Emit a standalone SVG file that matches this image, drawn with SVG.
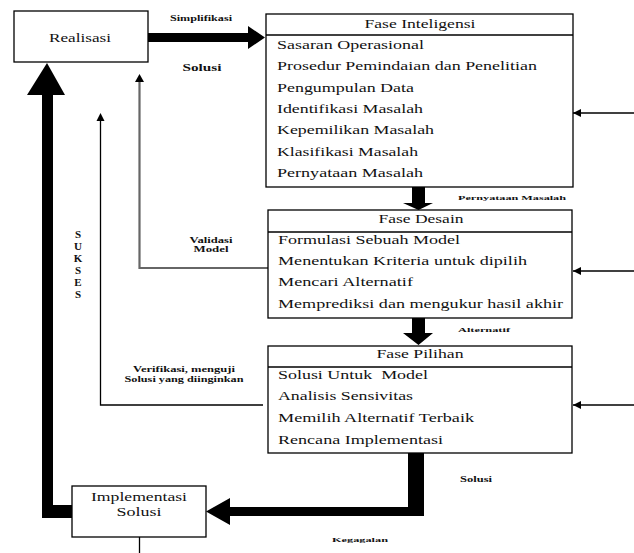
<svg xmlns="http://www.w3.org/2000/svg" width="634" height="553" viewBox="0 0 634 553" font-family="Liberation Serif, DejaVu Serif, serif">
<defs>
<style>
.box{fill:#fff;stroke:#000;stroke-width:1.3}
.sep{stroke:#000;stroke-width:1.3}
text{font-family:"Liberation Serif","DejaVu Serif",serif}
.t{font-size:13px;fill:#111}
.ti{font-size:13px;fill:#111;text-anchor:middle}
.lb{font-weight:bold;fill:#111;text-anchor:middle}
.thin{fill:none;stroke:#000;stroke-width:1.3}
.gray{fill:none;stroke:#666;stroke-width:2.2}
.thick{fill:#000}
</style>
<marker id="ah" viewBox="0 0 10 10" refX="10" refY="5" markerWidth="8" markerHeight="8" markerUnits="userSpaceOnUse" orient="auto">
<path d="M0,0 L10,5 L0,10 Z" fill="#000"/>
</marker>
</defs>

<g id="connectors">
<path class="thick" d="M148,33 H248 V26 L265,37.5 L248,49 V42 H148 Z"/>
<path class="thick" d="M412,187 H425 V203 H433 L418.5,210 L403,203 H412 Z"/>
<path class="thick" d="M412,318 H425 V333 H433 L418.5,345 L403,333 H412 Z"/>
<path class="thick" d="M408,453 H424 V516 H230 V525 L206,511.5 L230,498 V507 H408 Z"/>
<path class="thick" d="M72,505 V518 H42 V95 H27 L47,63 L65,95 H53 V505 Z"/>
<path class="gray" d="M268,268 H139.5 V82"/>
<path d="M135,82 L139.5,74 L144,82 Z" fill="#000"/>
<path class="thin" d="M263,405 H100.5 V120"/>
<path d="M96.5,121 L100.5,113 L104.5,121 Z" fill="#000"/>
<line class="thin" x1="634" y1="113" x2="573" y2="113" marker-end="url(#ah)"/>
<line class="thin" x1="634" y1="271" x2="573" y2="271" marker-end="url(#ah)"/>
<line class="thin" x1="634" y1="405" x2="573" y2="405" marker-end="url(#ah)"/>
<line class="thin" x1="139.5" y1="537" x2="139.5" y2="553"/>
</g>

<g id="labels">
<text class="lb" x="201" y="21" font-size="8" textLength="62" lengthAdjust="spacingAndGlyphs" fill="#1a1a40">Simplifikasi</text>
<text class="lb" x="202" y="71" font-size="11" textLength="39" lengthAdjust="spacingAndGlyphs">Solusi</text>
<text class="lb" x="512" y="200" font-size="7" textLength="108" lengthAdjust="spacingAndGlyphs">Pernyataan Masalah</text>
<text class="lb" x="211" y="243" font-size="8" textLength="43" lengthAdjust="spacingAndGlyphs">Validasi</text>
<text class="lb" x="211" y="252" font-size="8" textLength="35" lengthAdjust="spacingAndGlyphs">Model</text>
<text class="lb" x="484" y="332" font-size="7" textLength="52" lengthAdjust="spacingAndGlyphs">Alternatif</text>
<text class="lb" x="184" y="372" font-size="8" textLength="102" lengthAdjust="spacingAndGlyphs">Verifikasi, menguji</text>
<text class="lb" x="184" y="382" font-size="8" textLength="119" lengthAdjust="spacingAndGlyphs">Solusi yang diinginkan</text>
<text class="lb" x="476" y="482" font-size="8" textLength="32" lengthAdjust="spacingAndGlyphs">Solusi</text>
<text class="lb" x="360" y="542" font-size="7" textLength="56" lengthAdjust="spacingAndGlyphs">Kegagalan</text>
<text class="lb" x="78" y="238" font-size="11">S</text>
<text class="lb" x="78" y="250" font-size="11">U</text>
<text class="lb" x="78" y="262" font-size="11">K</text>
<text class="lb" x="78" y="274" font-size="11">S</text>
<text class="lb" x="78" y="286" font-size="11">E</text>
<text class="lb" x="78" y="298" font-size="11">S</text>
</g>

<g id="realisasi">
<rect class="box" x="14" y="11" width="134" height="51"/>
<text class="ti" x="80" y="42" textLength="62" lengthAdjust="spacingAndGlyphs">Realisasi</text>
</g>

<g id="fase-inteligensi">
<rect class="box" x="266" y="14" width="307" height="173"/>
<line class="sep" x1="266" y1="35" x2="573" y2="35"/>
<text class="ti" x="420" y="28" textLength="111" lengthAdjust="spacingAndGlyphs">Fase Inteligensi</text>
<text class="t" x="277" y="49" textLength="147" lengthAdjust="spacingAndGlyphs">Sasaran Operasional</text>
<text class="t" x="277" y="70" textLength="260" lengthAdjust="spacingAndGlyphs">Prosedur Pemindaian dan Penelitian</text>
<text class="t" x="277" y="92" textLength="137" lengthAdjust="spacingAndGlyphs">Pengumpulan Data</text>
<text class="t" x="277" y="113" textLength="146" lengthAdjust="spacingAndGlyphs">Identifikasi Masalah</text>
<text class="t" x="277" y="134" textLength="157" lengthAdjust="spacingAndGlyphs">Kepemilikan Masalah</text>
<text class="t" x="277" y="156" textLength="141" lengthAdjust="spacingAndGlyphs">Klasifikasi Masalah</text>
<text class="t" x="277" y="177" textLength="146" lengthAdjust="spacingAndGlyphs">Pernyataan Masalah</text>
</g>

<g id="fase-desain">
<rect class="box" x="268" y="210" width="304" height="108"/>
<line class="sep" x1="268" y1="232" x2="572" y2="232"/>
<text class="ti" x="421" y="223" textLength="85" lengthAdjust="spacingAndGlyphs">Fase Desain</text>
<text class="t" x="278" y="244" textLength="182" lengthAdjust="spacingAndGlyphs">Formulasi Sebuah Model</text>
<text class="t" x="278" y="265" textLength="249" lengthAdjust="spacingAndGlyphs">Menentukan Kriteria untuk dipilih</text>
<text class="t" x="278" y="286" textLength="135" lengthAdjust="spacingAndGlyphs">Mencari Alternatif</text>
<text class="t" x="278" y="308" textLength="285" lengthAdjust="spacingAndGlyphs">Memprediksi dan mengukur hasil akhir</text>
</g>

<g id="fase-pilihan">
<rect class="box" x="268" y="346" width="304" height="107"/>
<line class="sep" x1="268" y1="367" x2="572" y2="367"/>
<text class="ti" x="420" y="358" textLength="87" lengthAdjust="spacingAndGlyphs">Fase Pilihan</text>
<text class="t" x="278" y="379" textLength="150" lengthAdjust="spacingAndGlyphs" xml:space="preserve">Solusi Untuk  Model</text>
<text class="t" x="278" y="400" textLength="135" lengthAdjust="spacingAndGlyphs">Analisis Sensivitas</text>
<text class="t" x="278" y="422" textLength="196" lengthAdjust="spacingAndGlyphs">Memilih Alternatif Terbaik</text>
<text class="t" x="278" y="444" textLength="165" lengthAdjust="spacingAndGlyphs">Rencana Implementasi</text>
</g>

<g id="implementasi-solusi">
<rect class="box" x="72" y="486" width="134" height="51"/>
<text class="ti" x="139" y="501" textLength="96" lengthAdjust="spacingAndGlyphs">Implementasi</text>
<text class="ti" x="139" y="516" textLength="45" lengthAdjust="spacingAndGlyphs">Solusi</text>
</g>
</svg>
